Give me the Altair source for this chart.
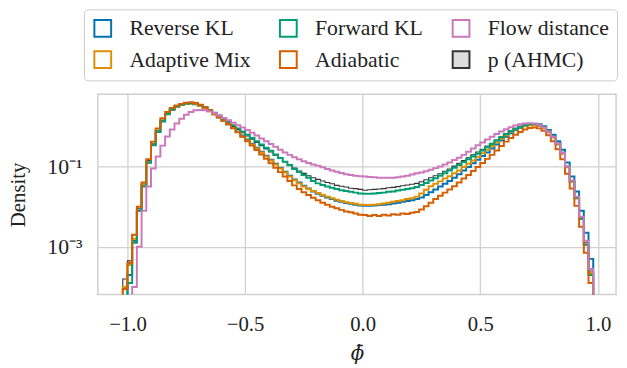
import altair as alt
import pandas as pd

# Histogram bins shared by all series (left edge of first bin, bin width)
bin_start = -1.02
bin_width = 0.02

# log10(density) per bin (None = empty bin)
log_p_ahmc = [
    -3.80, -3.35, -2.70, -2.05, -1.45, -0.85, -0.42, -0.10, 0.15, 0.32,
    0.43, 0.50, 0.54, 0.57, 0.58, 0.56, 0.52, 0.46, 0.39, 0.32,
    0.24, 0.16, 0.08, 0.00, -0.08, -0.16, -0.24, -0.32, -0.40, -0.48,
    -0.56, -0.64, -0.72, -0.80, -0.88, -0.96, -1.04, -1.11, -1.17, -1.23,
    -1.28, -1.32, -1.36, -1.40, -1.43, -1.47, -1.49, -1.51, -1.54, -1.55,
    -1.57, -1.59, -1.58, -1.57, -1.56, -1.55, -1.53, -1.52, -1.50, -1.48,
    -1.46, -1.44, -1.42, -1.38, -1.33, -1.28, -1.23, -1.18, -1.12, -1.06,
    -0.99, -0.92, -0.85, -0.78, -0.71, -0.64, -0.57, -0.49, -0.42, -0.34,
    -0.26, -0.18, -0.11, -0.05, 0.00, 0.04, 0.06, 0.06, 0.04, -0.02,
    -0.12, -0.25, -0.42, -0.65, -1.00, -1.35, -1.75, -2.28, -2.90, -3.60,
]
log_reverse_kl = [
    None, -3.70, -2.85, -2.10, -1.45, -0.90, -0.47, -0.14, 0.12, 0.30,
    0.41, 0.49, 0.53, 0.56, 0.57, 0.55, 0.51, 0.45, 0.38, 0.30,
    0.22, 0.14, 0.05, -0.04, -0.13, -0.23, -0.33, -0.43, -0.53, -0.63,
    -0.73, -0.83, -0.93, -1.03, -1.13, -1.23, -1.32, -1.40, -1.48, -1.55,
    -1.62, -1.68, -1.73, -1.77, -1.81, -1.85, -1.88, -1.91, -1.93, -1.95,
    -1.97, -1.98, -1.98, -1.97, -1.96, -1.95, -1.94, -1.92, -1.90, -1.88,
    -1.86, -1.84, -1.81, -1.77, -1.71, -1.64, -1.57, -1.50, -1.43, -1.36,
    -1.28, -1.19, -1.10, -1.01, -0.92, -0.83, -0.74, -0.65, -0.55, -0.45,
    -0.35, -0.26, -0.17, -0.10, -0.04, 0.01, 0.04, 0.06, 0.05, 0.00,
    -0.09, -0.21, -0.37, -0.58, -0.90, -1.25, -1.62, -2.10, -2.65, -3.30,
]
log_adaptive_mix = [
    -4.00, -3.45, -2.80, -2.10, -1.45, -0.90, -0.45, -0.12, 0.14, 0.31,
    0.42, 0.49, 0.53, 0.56, 0.57, 0.55, 0.51, 0.45, 0.38, 0.30,
    0.22, 0.14, 0.05, -0.04, -0.14, -0.25, -0.35, -0.45, -0.55, -0.65,
    -0.75, -0.85, -0.95, -1.05, -1.15, -1.25, -1.34, -1.42, -1.50, -1.56,
    -1.61, -1.66, -1.71, -1.75, -1.79, -1.83, -1.86, -1.89, -1.91, -1.93,
    -1.95, -1.96, -1.96, -1.95, -1.94, -1.92, -1.90, -1.88, -1.86, -1.84,
    -1.81, -1.79, -1.75, -1.67, -1.58, -1.49, -1.43, -1.37, -1.30, -1.24,
    -1.17, -1.10, -1.01, -0.93, -0.85, -0.76, -0.67, -0.58, -0.49, -0.40,
    -0.31, -0.22, -0.14, -0.08, -0.03, 0.01, 0.03, 0.03, 0.01, -0.05,
    -0.15, -0.28, -0.45, -0.68, -1.02, -1.38, -1.80, -2.30, -2.95, -3.65,
]
log_forward_kl = [
    None, -3.90, -2.90, -2.10, -1.50, -0.90, -0.45, -0.12, 0.14, 0.31,
    0.43, 0.50, 0.54, 0.57, 0.58, 0.57, 0.53, 0.48, 0.41, 0.34,
    0.27, 0.19, 0.11, 0.03, -0.05, -0.13, -0.21, -0.29, -0.37, -0.45,
    -0.53, -0.61, -0.70, -0.79, -0.88, -0.97, -1.06, -1.14, -1.21, -1.28,
    -1.36, -1.42, -1.46, -1.50, -1.53, -1.56, -1.59, -1.61, -1.63, -1.65,
    -1.67, -1.68, -1.68, -1.67, -1.66, -1.65, -1.63, -1.62, -1.60, -1.58,
    -1.56, -1.54, -1.51, -1.46, -1.41, -1.35, -1.29, -1.23, -1.17, -1.10,
    -1.03, -0.96, -0.89, -0.82, -0.75, -0.68, -0.60, -0.52, -0.44, -0.35,
    -0.27, -0.19, -0.12, -0.06, -0.01, 0.03, 0.05, 0.06, 0.04, -0.02,
    -0.12, -0.25, -0.43, -0.66, -1.00, -1.37, -1.78, -2.30, -2.95, -3.70,
]
log_adiabatic = [
    -4.05, -3.40, -2.70, -2.00, -1.40, -0.82, -0.38, -0.05, 0.20, 0.36,
    0.46, 0.52, 0.56, 0.59, 0.60, 0.58, 0.54, 0.47, 0.40, 0.32,
    0.23, 0.14, 0.05, -0.05, -0.15, -0.26, -0.37, -0.48, -0.59, -0.70,
    -0.81, -0.92, -1.03, -1.14, -1.25, -1.36, -1.47, -1.56, -1.64, -1.71,
    -1.78, -1.84, -1.90, -1.95, -2.00, -2.04, -2.08, -2.12, -2.14, -2.17,
    -2.20, -2.21, -2.23, -2.21, -2.23, -2.20, -2.22, -2.19, -2.20, -2.17,
    -2.18, -2.15, -2.13, -2.07, -1.99, -1.90, -1.81, -1.73, -1.65, -1.57,
    -1.49, -1.40, -1.30, -1.21, -1.11, -1.01, -0.91, -0.81, -0.71, -0.60,
    -0.49, -0.38, -0.29, -0.21, -0.14, -0.08, -0.04, -0.03, -0.05, -0.11,
    -0.22, -0.37, -0.57, -0.82, -1.18, -1.55, -1.98, -2.50, -3.15, -3.90,
]
log_flow_distance = [
    None, None, -4.00, -3.00, -2.10, -1.50, -1.05, -0.75, -0.48, -0.25,
    -0.08, 0.07, 0.19, 0.29, 0.36, 0.40, 0.41, 0.40, 0.37, 0.33,
    0.27, 0.21, 0.15, 0.09, 0.03, -0.03, -0.09, -0.16, -0.23, -0.30,
    -0.37, -0.44, -0.51, -0.58, -0.65, -0.71, -0.77, -0.82, -0.87, -0.91,
    -0.95, -0.98, -1.02, -1.06, -1.10, -1.13, -1.16, -1.19, -1.21, -1.23,
    -1.24, -1.25, -1.26, -1.27, -1.28, -1.28, -1.28, -1.28, -1.27, -1.25,
    -1.23, -1.20, -1.17, -1.15, -1.12, -1.08, -1.04, -1.00, -0.95, -0.90,
    -0.84, -0.78, -0.71, -0.63, -0.55, -0.47, -0.40, -0.33, -0.26, -0.19,
    -0.13, -0.07, -0.02, 0.02, 0.05, 0.07, 0.08, 0.07, 0.04, -0.03,
    -0.13, -0.26, -0.43, -0.66, -1.00, -1.35, -1.75, -2.25, -2.85, -3.55,
]

series_names = ["p (AHMC)", "Reverse KL", "Adaptive Mix", "Forward KL", "Adiabatic", "Flow distance"]
series_logs = [log_p_ahmc, log_reverse_kl, log_adaptive_mix, log_forward_kl,
               log_adiabatic, log_flow_distance]

# legend order (row-wise, 3 columns) and colours
legend_order = ["Reverse KL", "Forward KL", "Flow distance", "Adaptive Mix", "Adiabatic", "p (AHMC)"]
legend_colors = ["#0173b2", "#029e73", "#cc78bc", "#de8f05", "#d55e00", "#333333"]

floor = 1e-5  # below the visible domain: lines drop to the bottom (clipped)

line_rows, area_rows = [], []
for name, logs in zip(series_names, series_logs):
    idx = [k for k, v in enumerate(logs) if v is not None]
    first, last = idx[0], idx[-1]
    edge = lambda k: round(bin_start + k * bin_width, 4)
    pts = [(edge(first), floor)]
    for k in range(first, last + 1):
        pts.append((edge(k), 10 ** logs[k]))
    pts.append((edge(last + 1), 10 ** logs[last]))
    pts.append((edge(last + 1), floor))
    for i, (x, d) in enumerate(pts):
        line_rows.append({"series": name, "x": x, "density": d, "i": i})
    if name == "p (AHMC)":
        for i, (x, d) in enumerate(pts[1:-1]):
            area_rows.append({"series": name, "x": x, "density": d, "i": i})

lines_df = pd.DataFrame(line_rows)
area_df = pd.DataFrame(area_rows)

xscale = alt.Scale(domain=[-1.126, 1.077], nice=False, zero=False)
yscale = alt.Scale(type="log", domain=[6.46e-5, 6.31], nice=False)

x_axis = alt.Axis(values=[-1.0, -0.5, 0.0, 0.5, 1.0], format=".1f", title="ϕ̄",
                  titleFont="DejaVu Serif", titleFontStyle="italic", titleFontSize=20,
                  titlePadding=10,
                  labelFontSize=21, labelPadding=19, ticks=False, tickSize=0, domain=False)
y_axis = alt.Axis(values=[1e-3, 1e-1], labelExpr="datum.value < 0.01 ? '10⁻³' : '10⁻¹'",
                  title="Density", titleFontSize=21, titlePadding=19,
                  labelFontSize=22, labelPadding=16, ticks=False, tickSize=0, domain=False)

area = alt.Chart(area_df).mark_area(
    interpolate="step-after", color="#808080", opacity=0.28, clip=True
).encode(
    x=alt.X("x:Q", scale=xscale, axis=x_axis),
    y=alt.Y("density:Q", scale=yscale, axis=y_axis),
    y2=alt.datum(floor),
    order="i:Q",
)

lines = alt.Chart(lines_df).mark_line(interpolate="step-after", clip=True).encode(
    x=alt.X("x:Q", scale=xscale),
    y=alt.Y("density:Q", scale=yscale),
    order="i:Q",
    stroke=alt.Stroke(
        "series:N",
        scale=alt.Scale(domain=legend_order, range=legend_colors),
        legend=alt.Legend(
            title=None, orient="none", legendX=-14, legendY=-86,
            direction="horizontal", columns=3, columnPadding=25, rowPadding=6,
            symbolType="square", symbolSize=289, symbolStrokeWidth=2, symbolOpacity=1,
            symbolFillColor=alt.ExprRef("datum.value == 'p (AHMC)' ? '#dcdcdc' : 'transparent'"),
            labelFontSize=22, labelOffset=16, labelColor="#222222",
            labelFont="Liberation Serif", labelLimit=300,
            padding=8, strokeColor="#cccccc", fillColor="white", cornerRadius=4,
        ),
    ),
    strokeWidth=alt.condition(alt.datum.series == "p (AHMC)", alt.value(1.1), alt.value(2.0)),
)

chart = alt.layer(area, lines).properties(
    width=525, height=203,
    autosize=alt.AutoSizeParams(type="none"),
    padding={"left": 91, "top": 85, "right": 3, "bottom": 72},
).configure(
    font="Liberation Serif",
).configure_axis(
    gridColor="#d0d0d0", gridWidth=1.3, labelColor="#222222", titleColor="#222222",
    titleFontWeight="normal", labelFont="Liberation Serif",
).configure_view(
    stroke="#d0d0d0", strokeWidth=1.5,
)

chart.save("out.html", embed_options={"renderer": "svg", "actions": False})
